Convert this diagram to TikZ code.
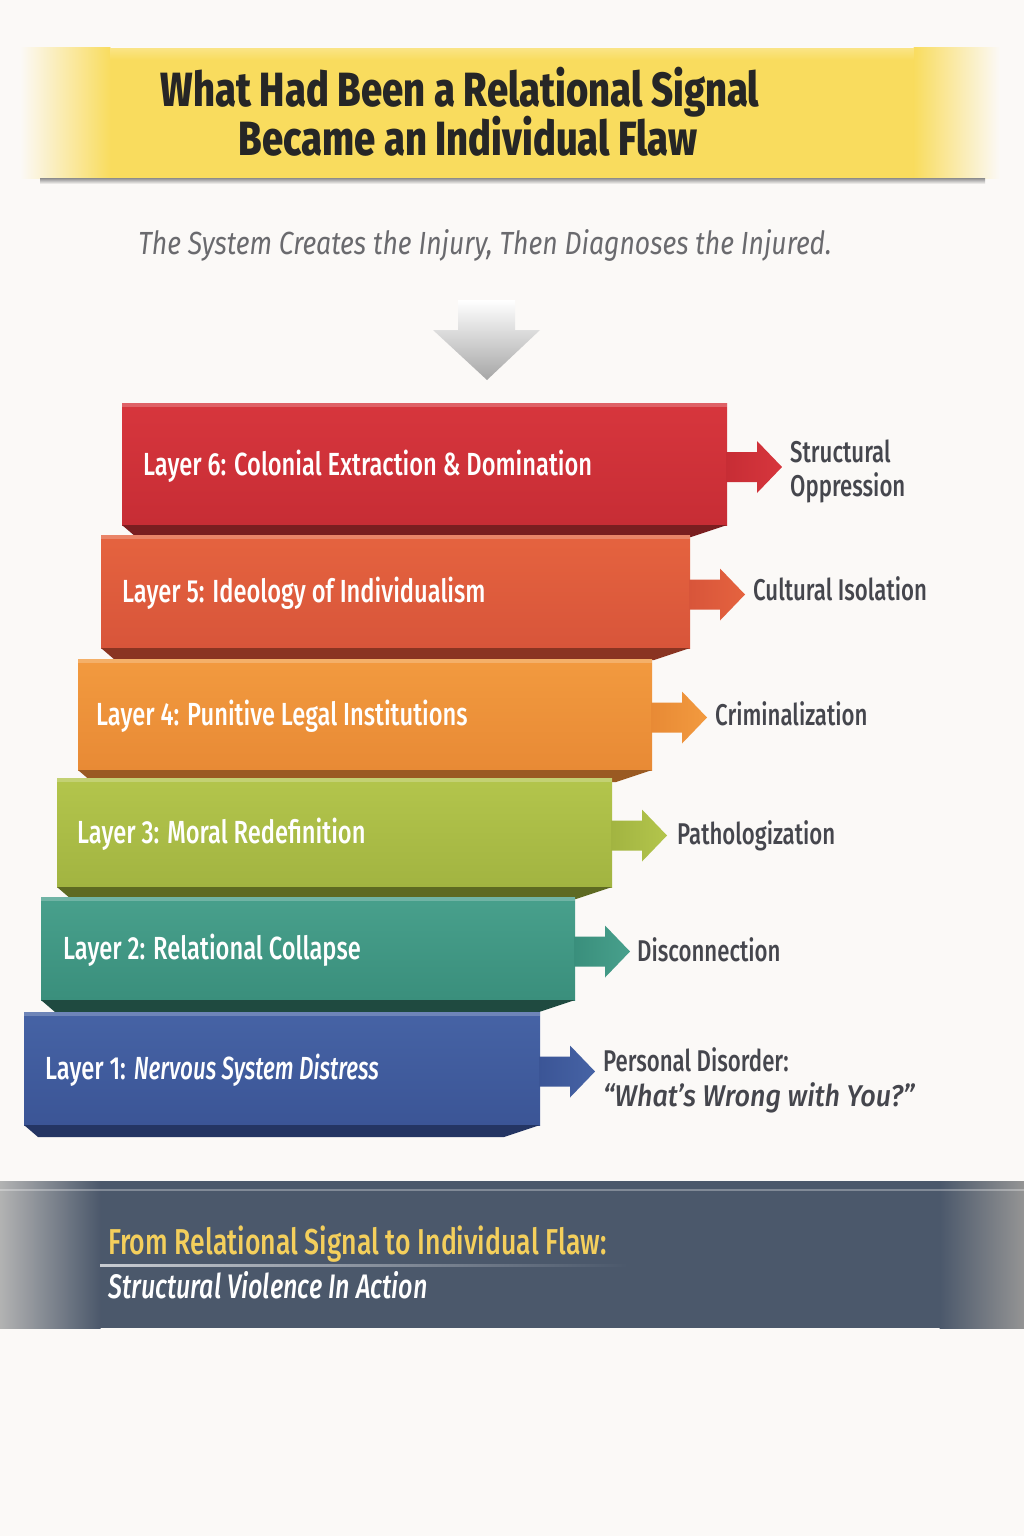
\documentclass[tikz,border=0pt]{standalone}
\usepackage{fontspec}
\setmainfont{Fira Sans}[FakeStretch=0.74]
\newfontfamily\medfont{Fira Sans Medium}[FakeStretch=0.74]
\newfontfamily\titlefont{Fira Sans ExtraBold}[FakeStretch=0.795]
\newfontfamily\subfont{Fira Sans}[FakeStretch=0.83]
\newfontfamily\quotefont{Fira Sans Medium}[FakeStretch=0.9]
\newfontfamily\nervfont{Fira Sans Medium}[FakeStretch=0.7]
\usetikzlibrary{calc}
\definecolor{bg}{HTML}{FBF9F7}
\definecolor{ttl}{HTML}{F9DC5E}
\definecolor{ttltext}{HTML}{262626}
\definecolor{subt}{HTML}{6A6A6E}
\definecolor{lbl}{HTML}{45464D}
\definecolor{slate}{HTML}{4B586B}
\definecolor{gold}{HTML}{F4CF5C}
\definecolor{c6t}{HTML}{D7363D}\definecolor{c6b}{HTML}{C72D35}\definecolor{c6d}{HTML}{7A1E20}
\definecolor{c5t}{HTML}{E5633F}\definecolor{c5b}{HTML}{D8553A}\definecolor{c5d}{HTML}{8A3422}
\definecolor{c4t}{HTML}{F29A3F}\definecolor{c4b}{HTML}{E88A35}\definecolor{c4d}{HTML}{9A5A22}
\definecolor{c3t}{HTML}{B3C54C}\definecolor{c3b}{HTML}{A2B441}\definecolor{c3d}{HTML}{5E6A22}
\definecolor{c2t}{HTML}{48A08C}\definecolor{c2b}{HTML}{3A8F7C}\definecolor{c2d}{HTML}{1F4A40}
\definecolor{c1t}{HTML}{4663A5}\definecolor{c1b}{HTML}{3B5596}\definecolor{c1d}{HTML}{243563}
\tikzset{
  layerbox/.style={rectangle, anchor=north west, inner sep=0pt, outer sep=0pt},
  layertext/.style={anchor=base west, inner sep=0pt, text=white, font=\medfont\fontsize{32}{36}\selectfont},
  sidelabel/.style={anchor=base west, inner sep=0pt, text=lbl, font=\medfont\fontsize{30}{34}\selectfont},
  titletext/.style={anchor=base, inner sep=0pt, text=ttltext, font=\titlefont\fontsize{48}{52}\selectfont},
}
\newcommand\mylayer[8]{% name, x, y, w, h, top, bottom, dark
  \node[layerbox, top color=#6, bottom color=#7, minimum width=#4, minimum height=#5] (L#1) at (#2,#3) {};
  \fill[#8] (L#1.south west) -- ++(14,12) -- ($(L#1.south east)+(-36,12)$) -- (L#1.south east) -- cycle;
  \fill[white, opacity=0.22] (L#1.north west) rectangle ($(L#1.north east)+(0,4)$);
  \shade[left color=#7, right color=#6] ($(L#1.east)+(-1,-12)$) -- ++(31,0) -- ++(0,-11) -- ++(25,26) -- ++(-25,26) -- ++(0,-11) -- ++(-31,0) -- cycle;
}
\begin{document}
\begin{tikzpicture}[x=1pt,y=-1pt]
\useasboundingbox (0,0) rectangle (1024,1536);
\fill[bg] (0,0) rectangle (1024,1536);
% title band
\fill[ttl] (110,48) rectangle (914,178);
\shade[left color=bg, right color=ttl] (20,48) rectangle (110.5,178);
\shade[left color=ttl, right color=bg] (913.5,48) rectangle (1000,178);
\shade[top color=white, bottom color=ttl, opacity=0.25] (110,48) rectangle (914,60);
\shade[top color=black!45, bottom color=bg] (40,178) rectangle (985,184);
\node[titletext] (title1) at (460,107) {What Had Been a Relational Signal};
\node[titletext] (title2) at (468,155) {Became an Individual Flaw};
\node[anchor=base, inner sep=0pt, text=subt, font=\subfont\itshape\fontsize{32}{35}\selectfont] (sub) at (485,254) {The System Creates the Injury, Then Diagnoses the Injured.};
% down arrow
\shade[top color=white, bottom color=black!35] (458,300) -- (515,300) -- (515,330) -- (540,330) -- (487,380) -- (433,330) -- (458,330) -- cycle;
% layers
\mylayer{6}{122}{403}{605}{122}{c6t}{c6b}{c6d}
\mylayer{5}{101}{535}{589}{113}{c5t}{c5b}{c5d}
\mylayer{4}{78}{659}{574}{111}{c4t}{c4b}{c4d}
\mylayer{3}{57}{778}{555}{109}{c3t}{c3b}{c3d}
\mylayer{2}{41}{897}{534}{103}{c2t}{c2b}{c2d}
\mylayer{1}{24}{1012}{516}{113}{c1t}{c1b}{c1d}
\node[layertext] (T6) at ($(L6.west)+(21,11)$) {Layer 6: Colonial Extraction \& Domination};
\node[layertext] (T5) at ($(L5.west)+(21,11)$) {Layer 5: Ideology of Individualism};
\node[layertext] (T4) at ($(L4.west)+(18,11)$) {Layer 4: Punitive Legal Institutions};
\node[layertext] (T3) at ($(L3.west)+(20,11)$) {Layer 3: Moral Redefinition};
\node[layertext] (T2) at ($(L2.west)+(22,11)$) {Layer 2: Relational Collapse};
\node[layertext] (T1) at ($(L1.west)+(21,11)$) {Layer 1: {\nervfont\itshape Nervous System Distress}};
% side labels
\node[sidelabel] (S6a) at ($(L6.east)+(63,-2)$) {Structural};
\node[sidelabel] (S6b) at ($(L6.east)+(63,32)$) {Oppression};
\node[sidelabel] (S5) at ($(L5.east)+(63,9)$) {Cultural Isolation};
\node[sidelabel] (S4) at ($(L4.east)+(63,11)$) {Criminalization};
\node[sidelabel] (S3) at ($(L3.east)+(65,12)$) {Pathologization};
\node[sidelabel] (S2) at ($(L2.east)+(62,13)$) {Disconnection};
\node[sidelabel] (S1a) at ($(L1.east)+(63,3)$) {Personal Disorder:};
\node[sidelabel, font=\quotefont\itshape\fontsize{30}{34}\selectfont] (S1b) at ($(L1.east)+(63,38)$) {“What’s Wrong with You?”};
% bottom band
\fill[slate] (0,1181) rectangle (1024,1328);
\shade[left color=black!30, right color=slate] (0,1181) rectangle (100.5,1328);
\shade[left color=slate, right color=black!42] (939.5,1181) rectangle (1024,1328);
\draw[white, opacity=0.3, line width=1.5] (0,1190) -- (1024,1190);
\node[anchor=base west, inner sep=0pt, text=gold, font=\medfont\fontsize{36}{40}\selectfont] (B1) at (108,1254) {From Relational Signal to Individual Flaw:};
\shade[left color=white!70!slate, right color=slate] (100,1264) rectangle (628,1266.5);
\node[anchor=base west, inner sep=0pt, text=white, font=\medfont\itshape\fontsize{34}{38}\selectfont] (B2) at (108,1298) {Structural Violence In Action};
\end{tikzpicture}
\end{document}
